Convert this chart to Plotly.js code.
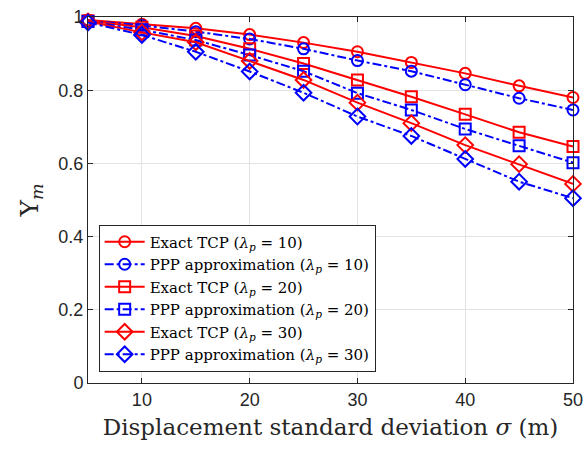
<!DOCTYPE html>
<html>
<head>
<meta charset="utf-8">
<script src="https://cdn.plot.ly/plotly-3.0.1.min.js"></script>
<style>html,body{margin:0;padding:0;background:#fff;}#chart{width:585px;height:450px;}</style>
</head>
<body>
<div id="chart"></div>
<script>
// Displacement standard deviation sigma (m)
const sigma = [5, 10, 15, 20, 25, 30, 35, 40, 45, 50];

// Coverage probability Upsilon_m for each intensity lambda_p
const exact10 = [0.992, 0.980, 0.969, 0.952, 0.930, 0.905, 0.876, 0.846, 0.812, 0.780];
const ppp10   = [0.990, 0.977, 0.960, 0.940, 0.913, 0.881, 0.852, 0.815, 0.778, 0.746];
const exact20 = [0.990, 0.972, 0.948, 0.913, 0.873, 0.828, 0.782, 0.734, 0.685, 0.646];
const ppp20   = [0.988, 0.965, 0.937, 0.896, 0.852, 0.792, 0.746, 0.694, 0.648, 0.602];
const exact30 = [0.988, 0.958, 0.931, 0.880, 0.828, 0.766, 0.710, 0.650, 0.598, 0.544];
const ppp30   = [0.985, 0.951, 0.905, 0.851, 0.793, 0.728, 0.675, 0.612, 0.550, 0.505];

const legendNames = [
  'Exact TCP (<i>λ</i><sub><i>p</i></sub> = 10)',
  'PPP approximation (<i>λ</i><sub><i>p</i></sub> = 10)',
  'Exact TCP (<i>λ</i><sub><i>p</i></sub> = 20)',
  'PPP approximation (<i>λ</i><sub><i>p</i></sub> = 20)',
  'Exact TCP (<i>λ</i><sub><i>p</i></sub> = 30)',
  'PPP approximation (<i>λ</i><sub><i>p</i></sub> = 30)'
];

const RED = '#ff0000', BLUE = '#0000ff';

function series(y, name, color, dash, symbol) {
  return {
    x: sigma, y: y, name: name, type: 'scatter', mode: 'lines+markers',
    cliponaxis: false,
    line: {color: color, width: 2, dash: dash},
    marker: {symbol: symbol, size: symbol.startsWith('diamond') ? 12 : 11,
             color: color, line: {color: color, width: 2}}
  };
}

const data = [
  series(exact10, legendNames[0], RED, 'solid', 'circle-open'),
  series(ppp10,   legendNames[1], BLUE, 'dashdot', 'circle-open'),
  series(exact20, legendNames[2], RED, 'solid', 'square-open'),
  series(ppp20,   legendNames[3], BLUE, 'dashdot', 'square-open'),
  series(exact30, legendNames[4], RED, 'solid', 'diamond-open'),
  series(ppp30,   legendNames[5], BLUE, 'dashdot', 'diamond-open')
];

const tickFont = {family: 'Liberation Sans, Arial, sans-serif', size: 18, color: '#262626'};
const serif = 'DejaVu Serif, Liberation Serif, serif';

const layout = {
  width: 585, height: 450,
  margin: {l: 88, r: 12, t: 17, b: 67},
  paper_bgcolor: '#ffffff', plot_bgcolor: '#ffffff',
  showlegend: true,
  legend: {
    x: 0.022, y: 0.433, xanchor: 'left', yanchor: 'top',
    bgcolor: '#ffffff', bordercolor: '#262626', borderwidth: 1,
    font: {family: serif, size: 15, color: '#000'},
    tracegroupgap: 0, itemwidth: 40
  },
  xaxis: {
    range: [5, 50], tickvals: [10, 20, 30, 40, 50],
    ticks: 'inside', ticklen: 5, tickcolor: '#262626',
    showline: true, linecolor: '#262626', linewidth: 1, mirror: 'ticks',
    showgrid: true, gridcolor: '#e3e3e3', gridwidth: 1,
    zeroline: false, tickfont: tickFont,
    title: {text: 'Displacement standard deviation <i>σ</i> (m)',
            font: {family: serif, size: 23, color: '#262626'}, standoff: 10}
  },
  yaxis: {
    range: [0, 1], tickvals: [0, 0.2, 0.4, 0.6, 0.8, 1], ticktext: ['0', '0.2', '0.4', '0.6', '0.8', '1'],
    ticks: 'inside', ticklen: 5, tickcolor: '#262626',
    showline: true, linecolor: '#262626', linewidth: 1, mirror: 'ticks',
    showgrid: true, gridcolor: '#e3e3e3', gridwidth: 1,
    zeroline: false, tickfont: tickFont,
    title: {text: 'Υ<sub><i>m</i></sub>', font: {family: serif, size: 25, color: '#262626'}, standoff: 12}
  }
};

Plotly.newPlot('chart', data, layout, {displayModeBar: false, staticPlot: true});
</script>
</body>
</html>
